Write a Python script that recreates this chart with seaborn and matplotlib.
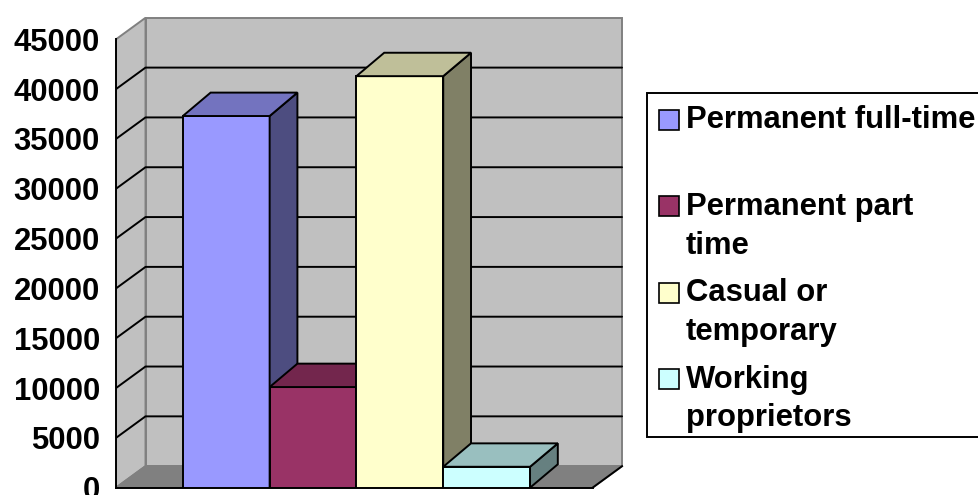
import matplotlib
matplotlib.use("Agg")
import matplotlib.pyplot as plt
from matplotlib.patches import Polygon, Rectangle
from matplotlib.colors import to_rgb
import seaborn as sns
import pandas as pd

# ---- data -------------------------------------------------------------
categories = ["Permanent full-time", "Permanent part time",
              "Casual or temporary", "Working proprietors"]
legend_lines = [["Permanent full-time"],
                ["Permanent part", "time"],
                ["Casual or", "temporary"],
                ["Working", "proprietors"]]
values = [37300, 10100, 41300, 2100]
colors = ["#9999FF", "#993366", "#FFFFCC", "#CCFFFF"]
y_ticks = [0, 5000, 10000, 15000, 20000, 25000, 30000, 35000, 40000, 45000]

# ---- style ------------------------------------------------------------
sns.set_style("white")
plt.rcParams["font.family"] = ["Liberation Sans", "DejaVu Sans"]
plt.rcParams["font.weight"] = "bold"

W, H = 979, 495
LW = 1.4
WALL = "#C0C0C0"
FLOOR = "#808080"
WALL_EDGE = "#808080"

fig = plt.figure(figsize=(W / 100, H / 100), dpi=100)
ax = fig.add_axes([116 / W, 7.3 / H, 514 / W, 478.3 / H])
ax.patch.set_visible(False)

df = pd.DataFrame({"category": categories, "value": values})
sns.barplot(data=df, x="category", y="value", hue="category",
            palette=colors, width=1.0, saturation=1, legend=False,
            edgecolor="black", linewidth=LW, ax=ax)
bars = sorted(ax.patches, key=lambda p: p.get_x())

# pseudo-3D box geometry (category units / value units)
X_LEFT, X_RIGHT = -1.27, 4.22
WALL_DX, WALL_DY = 0.34, 2160
BAR_DX, BAR_DY = 0.32, 2350
Y_TOP = y_ticks[-1]

ax.set_xlim(X_LEFT, X_LEFT + 514 / 86.8)
ax.set_ylim(0, 48000)

# side wall, back wall and floor
ax.add_patch(Polygon([(X_LEFT, 0), (X_LEFT + WALL_DX, WALL_DY),
                      (X_LEFT + WALL_DX, Y_TOP + WALL_DY), (X_LEFT, Y_TOP)],
                     closed=True, facecolor=WALL, edgecolor=WALL_EDGE,
                     lw=LW, zorder=0.5))
ax.add_patch(Polygon([(X_LEFT + WALL_DX, WALL_DY), (X_RIGHT + WALL_DX, WALL_DY),
                      (X_RIGHT + WALL_DX, Y_TOP + WALL_DY),
                      (X_LEFT + WALL_DX, Y_TOP + WALL_DY)],
                     closed=True, facecolor=WALL, edgecolor=WALL_EDGE,
                     lw=LW, zorder=0.5))
ax.add_patch(Polygon([(X_LEFT, 0), (X_RIGHT, 0),
                      (X_RIGHT + WALL_DX, WALL_DY), (X_LEFT + WALL_DX, WALL_DY)],
                     closed=True, facecolor=FLOOR, edgecolor=WALL_EDGE,
                     lw=LW, zorder=0.6))
ax.plot([X_RIGHT, X_RIGHT + WALL_DX], [0, WALL_DY], color="black",
        lw=LW, zorder=0.7, solid_capstyle="projecting")

# gridlines running along the side wall and across the back wall
for v in y_ticks[1:-1]:
    ax.plot([X_LEFT, X_LEFT + WALL_DX, X_RIGHT + WALL_DX],
            [v, v + WALL_DY, v + WALL_DY], color="black", lw=LW, zorder=1)


def shade(rgb, k):
    return tuple(c * k for c in rgb)


# extrude each bar: top and right-side faces
for i, bar in enumerate(bars):
    x, w, h = bar.get_x(), bar.get_width(), bar.get_height()
    base = to_rgb(bar.get_facecolor())
    bar.set_zorder(3 + 2 * i)
    top = Polygon([(x, h), (x + w, h), (x + w + BAR_DX, h + BAR_DY),
                   (x + BAR_DX, h + BAR_DY)], closed=True,
                  facecolor=shade(base, 0.75), edgecolor="black", lw=LW,
                  zorder=4 + 2 * i)
    side = Polygon([(x + w, 0), (x + w + BAR_DX, BAR_DY),
                    (x + w + BAR_DX, h + BAR_DY), (x + w, h)], closed=True,
                   facecolor=shade(base, 0.5), edgecolor="black", lw=LW,
                   zorder=4 + 2 * i)
    ax.add_patch(side)
    ax.add_patch(top)

# axes
ax.set_xlabel("")
ax.set_ylabel("")
ax.set_yticks(y_ticks)
ax.set_yticklabels([str(v) for v in y_ticks])
ax.set_xticks([X_LEFT, X_RIGHT])
ax.set_xticklabels([])
ax.tick_params(axis="y", direction="out", length=6.2, width=LW,
               color="black", pad=5.3, labelsize=22.3, labelcolor="black")
ax.tick_params(axis="x", direction="out", length=6, width=LW, color="black")
for s in ("top", "right"):
    ax.spines[s].set_visible(False)
ax.spines["left"].set_bounds(0, Y_TOP)
ax.spines["bottom"].set_bounds(X_LEFT, X_RIGHT)
for s in ("left", "bottom"):
    ax.spines[s].set_color("black")
    ax.spines[s].set_linewidth(LW)

# legend panel (pixel coordinates)
lg = fig.add_axes([0, 0, 1, 1])
lg.set_xlim(0, W)
lg.set_ylim(H, 0)
lg.axis("off")
lg.add_patch(Rectangle((646.7, 92.7), 345, 344.6, facecolor="white",
                       edgecolor="black", lw=LW))
first_baseline, entry_step, line_step = 128.5, 86.4, 38.6
for i, (lines, col) in enumerate(zip(legend_lines, colors)):
    base_y = first_baseline + i * entry_step
    lg.add_patch(Rectangle((659.5, base_y - 18.5), 20, 20, facecolor=col,
                           edgecolor="black", lw=1.2))
    for j, line in enumerate(lines):
        lg.text(686, base_y + j * line_step, line, fontsize=22.3,
                fontweight="bold", ha="left", va="baseline", color="black")

fig.savefig("out.png", dpi=100)
